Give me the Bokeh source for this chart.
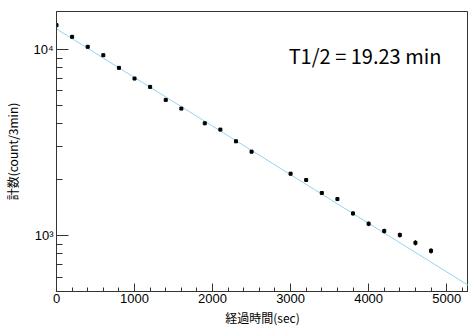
import numpy as np
from bokeh.plotting import figure
from bokeh.models import ColumnDataSource, FixedTicker, Label, Range1d
from bokeh.embed import file_html
from bokeh.resources import INLINE

# elapsed time (sec)
times = [0, 200, 400, 600, 800, 1000, 1200, 1400, 1600, 1900, 2100, 2300, 2500,
         3000, 3200, 3400, 3600, 3800, 4000, 4200, 4400, 4600, 4800]
# counts per 3 min
counts = [13510, 11700, 10340, 9320, 7970, 6985, 6300, 5365, 4818, 4016, 3715, 3214, 2829,
          2154, 1993, 1697, 1575, 1318, 1160, 1060, 1009, 917, 830]
# statistical errors
errors = [116, 108, 102, 97, 89, 84, 79, 73, 69, 63, 61, 57, 53,
          46, 45, 41, 40, 36, 34, 33, 32, 30, 29]

# fit parameters
fit_A0 = 12900.0
half_life_min = 19.23

x_major = [0, 1000, 2000, 3000, 4000, 5000]
x_minor = list(range(0, 5400, 200))
y_major = [1000, 10000]
y_major_labels = {1000: "10\u00b3", 10000: "10\u2074"}
y_minor = [500, 600, 700, 800, 900, 2000, 3000, 4000, 5000, 6000, 7000, 8000, 9000]

x_title = "経過時間(sec)"
y_title = "計数(count/3min)"
annotation = "T1/2 = 19.23 min"

p = figure(width=468, height=329, output_backend="svg", toolbar_location=None,
           y_axis_type="log", x_range=Range1d(0, 5280), y_range=Range1d(502, 16000),
           min_border_left=56, min_border_top=11, min_border_bottom=38, min_border_right=0)
p.grid.visible = False
p.outline_line_color = "#333333"
p.background_fill_color = "white"
p.border_fill_color = "white"

cnt = np.array(counts, dtype=float)
err = np.array(errors, dtype=float)
src = ColumnDataSource(dict(t=times, c=counts, lo=cnt - err, hi=cnt + err))

# fit line
t_fit = np.linspace(0, 5400, 50)
y_fit = fit_A0 * 0.5 ** (t_fit / (half_life_min * 60.0))
p.line(t_fit, y_fit, line_color="#8fd4f0", line_width=1)

p.segment(x0="t", y0="lo", x1="t", y1="hi", source=src, line_color="black", line_width=1)
p.scatter(x="t", y="c", source=src, marker="square", size=3, fill_color="black", line_color="black")

# axes
for ax in (p.xaxis[0], p.yaxis[0]):
    ax.axis_line_color = "#333333"
    ax.major_tick_line_color = "#333333"
    ax.minor_tick_line_color = "#333333"
    ax.major_tick_out = 0
    ax.minor_tick_out = 0
    ax.major_label_text_font = "Liberation Sans"
    ax.major_label_text_font_size = "13px"
    ax.major_label_text_color = "black"
    ax.axis_label_text_font = "Noto Sans CJK JP"
    ax.axis_label_text_font_size = "12px"
    ax.axis_label_text_font_style = "normal"
    ax.axis_label_text_color = "black"

p.xaxis[0].ticker = FixedTicker(ticks=x_major, minor_ticks=x_minor)
p.xaxis[0].major_tick_in = 8
p.xaxis[0].minor_tick_in = 4
p.xaxis[0].major_label_standoff = 2
p.xaxis[0].axis_label = x_title
p.xaxis[0].axis_label_standoff = 3

p.yaxis[0].ticker = FixedTicker(ticks=y_major, minor_ticks=y_minor)
p.yaxis[0].major_label_overrides = y_major_labels
p.yaxis[0].major_tick_in = 12
p.yaxis[0].minor_tick_in = 6
p.yaxis[0].major_label_standoff = 3
p.yaxis[0].axis_label = y_title
p.yaxis[0].axis_label_standoff = 9

p.add_layout(Label(x=2975, y=9300, text=annotation, text_font="Noto Sans CJK JP",
                   text_font_size="20px", text_color="black", text_baseline="middle"))

open("out.html", "w").write(file_html(p, INLINE))
